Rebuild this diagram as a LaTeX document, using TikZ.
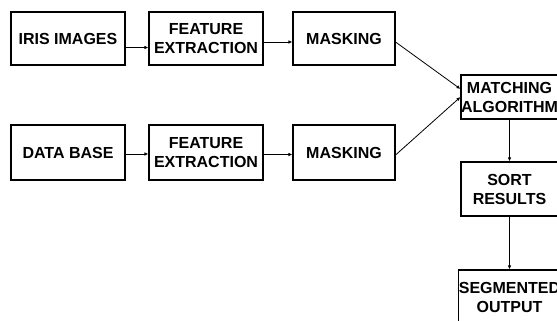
\documentclass[tikz,border=0pt]{standalone}
\usepackage{fontspec}
\setmainfont{Liberation Sans}
\usetikzlibrary{arrows.meta}

\begin{document}
\begin{tikzpicture}[x=1pt,y=-1pt,
  blk/.style={draw,line width=1.1pt,inner sep=0pt,align=center,
    font=\bfseries\fontsize{16}{19}\selectfont},
  con/.style={-{Latex[length=4pt,width=3.5pt]},line width=0.8pt}]
 \clip (0,0) rectangle (557,321);

 % upper row
 \node[blk,minimum width=114,minimum height=53] (iris) at (68,38.5) {IRIS IMAGES};
 \node[blk,minimum width=114,minimum height=53] (feat1) at (206,38.5) {FEATURE\\EXTRACTION};
 \node[blk,minimum width=102,minimum height=53] (mask1) at (344,38.5) {MASKING};

 % lower row
 \node[blk,minimum width=114,minimum height=55] (data) at (68,152.5) {DATA BASE};
 \node[blk,minimum width=114,minimum height=55] (feat2) at (206,152.5) {FEATURE\\EXTRACTION};
 \node[blk,minimum width=102,minimum height=55] (mask2) at (344,152.5) {MASKING};

 % right column
 \node[blk,minimum width=97,minimum height=44] (match) at (509.5,97) {MATCHING\\ALGORITHM};
 \node[blk,minimum width=97,minimum height=54] (sort) at (509.5,189) {SORT\\RESULTS};
 \node[blk,minimum width=97,minimum height=55] (seg) at (509.5,297.5) {SEGMENTED\\OUTPUT};

 \draw[con] ([yshift=-9pt]iris.east) -- ([yshift=-9pt]feat1.west);
 \draw[con] ([yshift=-3.5pt]feat1.east) -- ([yshift=-3.5pt]mask1.west);
 \draw[con] ([yshift=-1.5pt]data.east) -- ([yshift=-1.5pt]feat2.west);
 \draw[con] ([yshift=-2pt]feat2.east) -- ([yshift=-2pt]mask2.west);
 \draw[con] ([yshift=-3.5pt]mask1.east) -- ([yshift=8pt]match.west);
 \draw[con] ([yshift=-2.5pt]mask2.east) -- (match.west);
 \draw[con] (match) -- (sort);
 \draw[con] (sort) -- (seg);
\end{tikzpicture}
\end{document}
